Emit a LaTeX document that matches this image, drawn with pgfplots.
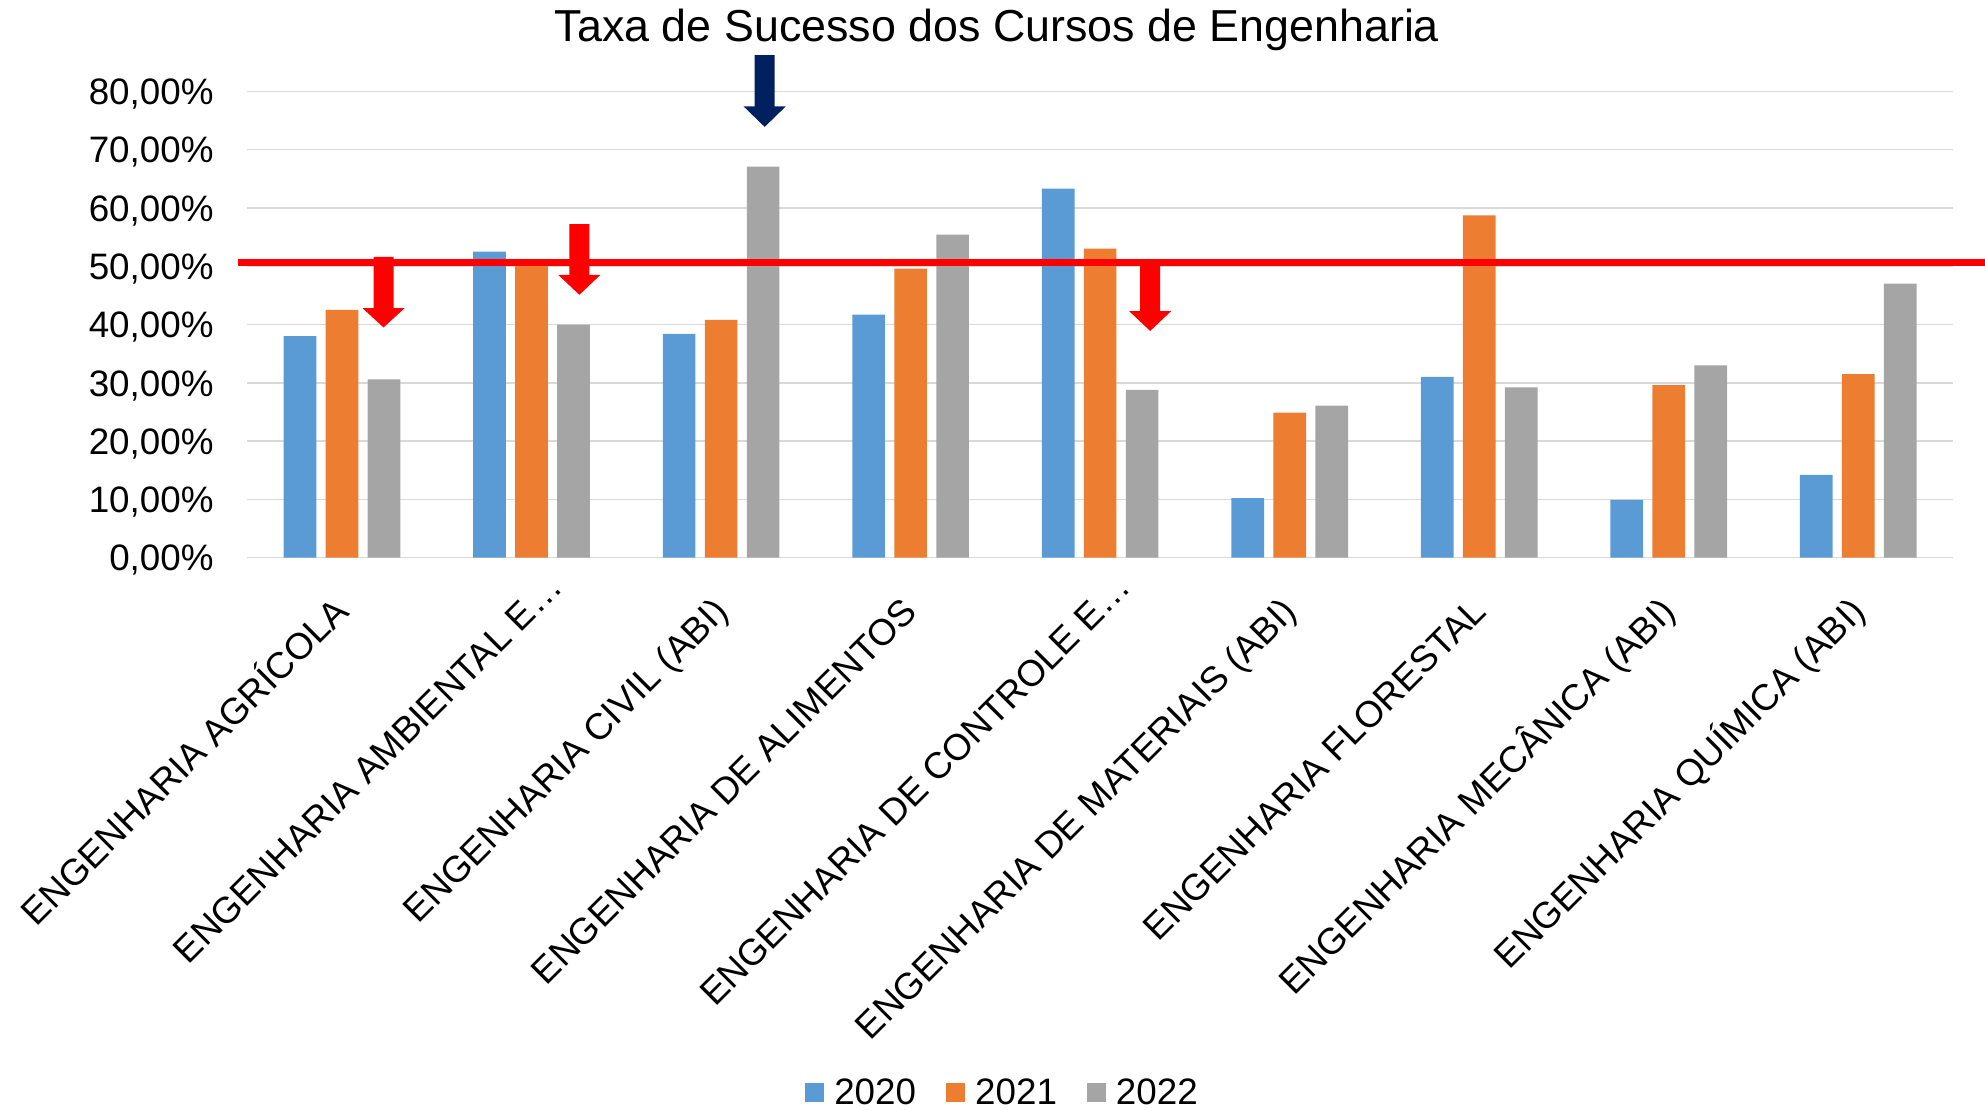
\documentclass[border=0pt]{standalone}
\usepackage{pgfplots}
\pgfplotsset{compat=1.18}
\usepackage{fontspec}
\setmainfont{Liberation Sans}
\definecolor{c20}{HTML}{5B9BD5}
\definecolor{c21}{HTML}{ED7D31}
\definecolor{c22}{HTML}{A5A5A5}
\definecolor{gridc}{HTML}{D9D9D9}
\definecolor{navyc}{HTML}{002060}
\definecolor{redl}{HTML}{FF0000}
\newcommand{\lblfont}{\fontsize{18.4pt}{22pt}\selectfont}
\begin{document}
\begin{tikzpicture}
\path[use as bounding box] (-123.65pt,-275.65pt) rectangle (868.85pt,278.85pt);
\begin{axis}[
  at={(0pt,0pt)}, anchor=south west,
  scale only axis, width=852.85pt, height=233.2pt,
  xmin=-0.5, xmax=8.5, ymin=0, ymax=80,
  clip=false,
  ybar=4.65pt, bar width=0.1725,
  xtick={0,1,2,3,4,5,6,7,8},
  ytick={0,10,20,30,40,50,60,70,80},
  yticklabels={{0,00\%},{10,00\%},{20,00\%},{30,00\%},{40,00\%},{50,00\%},{60,00\%},{70,00\%},{80,00\%}},
  xticklabels={{ENGENHARIA AGRÍCOLA},{ENGENHARIA AMBIENTAL E…\kern-17pt},{ENGENHARIA CIVIL (ABI)},{ENGENHARIA DE ALIMENTOS},{ENGENHARIA DE CONTROLE E…\kern-17pt},{ENGENHARIA DE MATERIAIS (ABI)},{ENGENHARIA FLORESTAL},{ENGENHARIA MECÂNICA (ABI)},{ENGENHARIA QUÍMICA (ABI)}},
  axis line style={draw=none},
  tick style={draw=none},
  ymajorgrids, grid style={gridc, line width=0.75pt},
  yticklabel style={font=\lblfont, anchor=base east, inner sep=0pt, xshift=-16.65pt, yshift=-6.6pt},
  xticklabel style={font=\lblfont, inner sep=0pt, xshift=4.5pt, yshift=-23.6pt, rotate=45, anchor=base east},
  legend columns=3,
  legend image code/.code={\fill[#1] (0pt,-4.75pt) rectangle (9.5pt,4.75pt);},
  legend style={at={(0.4422,-1.1477)}, anchor=center, draw=none, fill=none,
    font=\lblfont, column sep=0pt, nodes={inner sep=0pt},
    /tikz/every odd column/.append style={column sep=5pt},
    /tikz/every even column/.append style={column sep=15pt}},
  legend cell align=left,
]
\addplot[fill=c20, draw=none] coordinates {(0,38.0) (1,52.5) (2,38.4) (3,41.7) (4,63.3) (5,10.2) (6,31.0) (7,9.9) (8,14.2)};
\addplot[fill=c21, draw=none] coordinates {(0,42.5) (1,50.4) (2,40.8) (3,49.6) (4,53.0) (5,24.9) (6,58.7) (7,29.6) (8,31.5)};
\addplot[fill=c22, draw=none] coordinates {(0,30.6) (1,40.0) (2,67.1) (3,55.4) (4,28.8) (5,26.1) (6,29.2) (7,33.0) (8,47.0)};
\legend{2020,2021,2022}
\draw[redl, line width=3.5pt] (axis cs:-0.5475,50.7) -- (axis cs:8.75,50.7);
\fill[redl] (axis cs:0.1662,51.6) -- (axis cs:0.2718,51.6) -- (axis cs:0.2718,42.8) -- (axis cs:0.3298,42.8) -- (axis cs:0.219,39.5) -- (axis cs:0.1082,42.8) -- (axis cs:0.1662,42.8) -- cycle;
\fill[redl] (axis cs:1.1992,57.2) -- (axis cs:1.3048,57.2) -- (axis cs:1.3048,48.5) -- (axis cs:1.3628,48.5) -- (axis cs:1.252,45.1) -- (axis cs:1.1412,48.5) -- (axis cs:1.1992,48.5) -- cycle;
\fill[navyc] (axis cs:2.1772,86.2) -- (axis cs:2.2828,86.2) -- (axis cs:2.2828,77.4) -- (axis cs:2.3408,77.4) -- (axis cs:2.230,73.9) -- (axis cs:2.1192,77.4) -- (axis cs:2.1772,77.4) -- cycle;
\fill[redl] (axis cs:4.2112,51.0) -- (axis cs:4.3168,51.0) -- (axis cs:4.3168,42.3) -- (axis cs:4.3748,42.3) -- (axis cs:4.264,38.9) -- (axis cs:4.1532,42.3) -- (axis cs:4.2112,42.3) -- cycle;
\end{axis}
\node[anchor=base, font=\fontsize{22.4pt}{27pt}\selectfont, inner sep=0pt] at (374.85pt,258pt) {Taxa de Sucesso dos Cursos de Engenharia};
\end{tikzpicture}
\end{document}
